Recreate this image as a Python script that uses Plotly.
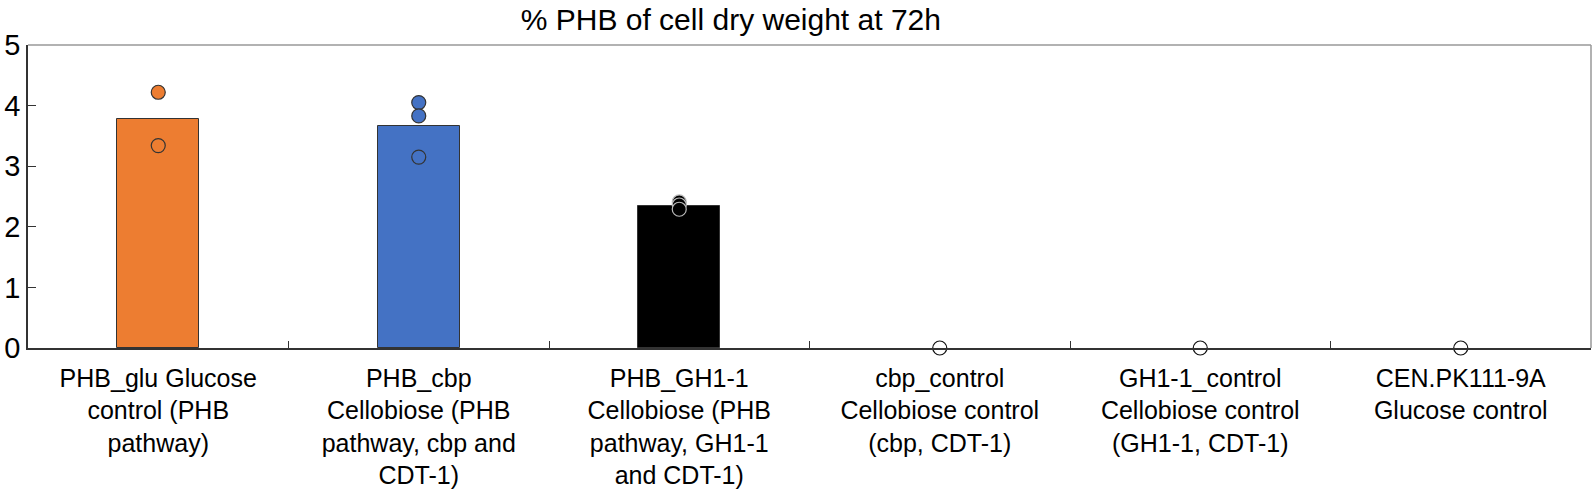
import plotly.graph_objects as go

# categories and values
categories = [
    "PHB_glu Glucose<br>control (PHB<br>pathway)",
    "PHB_cbp<br>Cellobiose (PHB<br>pathway, cbp and<br>CDT-1)",
    "PHB_GH1-1<br>Cellobiose (PHB<br>pathway, GH1-1<br>and CDT-1)",
    "cbp_control<br>Cellobiose control<br>(cbp, CDT-1)",
    "GH1-1_control<br>Cellobiose control<br>(GH1-1, CDT-1)",
    "CEN.PK111-9A<br>Glucose control",
]
bar_means = [3.78, 3.67, 2.35, 0, 0, 0]
replicates = [
    [4.22, 3.34],
    [4.05, 3.83, 3.15],
    [2.41, 2.36, 2.29],
    [0],
    [0],
    [0],
]
bar_colors = ["#ED7D31", "#4472C4", "#000000", "#FFFFFF", "#FFFFFF", "#FFFFFF"]
dot_edges = ["#333333", "#333333", "#BBBBBB", "#111111", "#111111", "#111111"]

fig = go.Figure()
fig.add_trace(go.Bar(
    x=categories, y=bar_means,
    marker=dict(color=bar_colors,
                line=dict(color="#333333", width=[1 if v > 0 else 0 for v in bar_means])),
    width=0.315, showlegend=False,
))

# replicate dots
for cat, vals, col, edge in zip(categories, replicates, bar_colors, dot_edges):
    fig.add_trace(go.Scatter(
        x=[cat] * len(vals), y=vals, mode="markers",
        marker=dict(size=14, color=col, line=dict(color=edge, width=1.2)),
        showlegend=False, cliponaxis=False,
    ))

# light frame on top / right
fig.add_shape(type="line", xref="paper", yref="paper", x0=0, x1=1, y0=1, y1=1,
              line=dict(color="#999999", width=1.5))
fig.add_shape(type="line", xref="paper", yref="paper", x0=1, x1=1, y0=0, y1=1,
              line=dict(color="#999999", width=1.5))

fig.update_layout(
    width=1594, height=503,
    margin=dict(l=28, r=3, t=45, b=155),
    paper_bgcolor="white", plot_bgcolor="white",
    font=dict(family="Liberation Sans, Arial", size=25, color="black"),
    title=dict(text="% PHB of cell dry weight at 72h", x=0.4585, xanchor="center",
               y=0.982, yanchor="top", font=dict(size=30)),
    bargap=0,
)
fig.update_xaxes(
    showline=True, linecolor="#333333", linewidth=1.5,
    ticks="inside", tickson="boundaries", ticklen=7, tickcolor="#333333",
    showgrid=False, tickangle=0, tickfont=dict(size=25), automargin=False,
    ticklabelstandoff=7,
)
fig.update_yaxes(
    range=[0, 5], dtick=1, showline=True, linecolor="#333333", linewidth=1.5,
    ticks="inside", ticklen=8, tickcolor="#333333", automargin=False,
    showgrid=False, zeroline=False, tickfont=dict(size=29),
)

fig.write_html("out.html", config={"displayModeBar": False},
               post_script="document.body.style.margin='0';")
